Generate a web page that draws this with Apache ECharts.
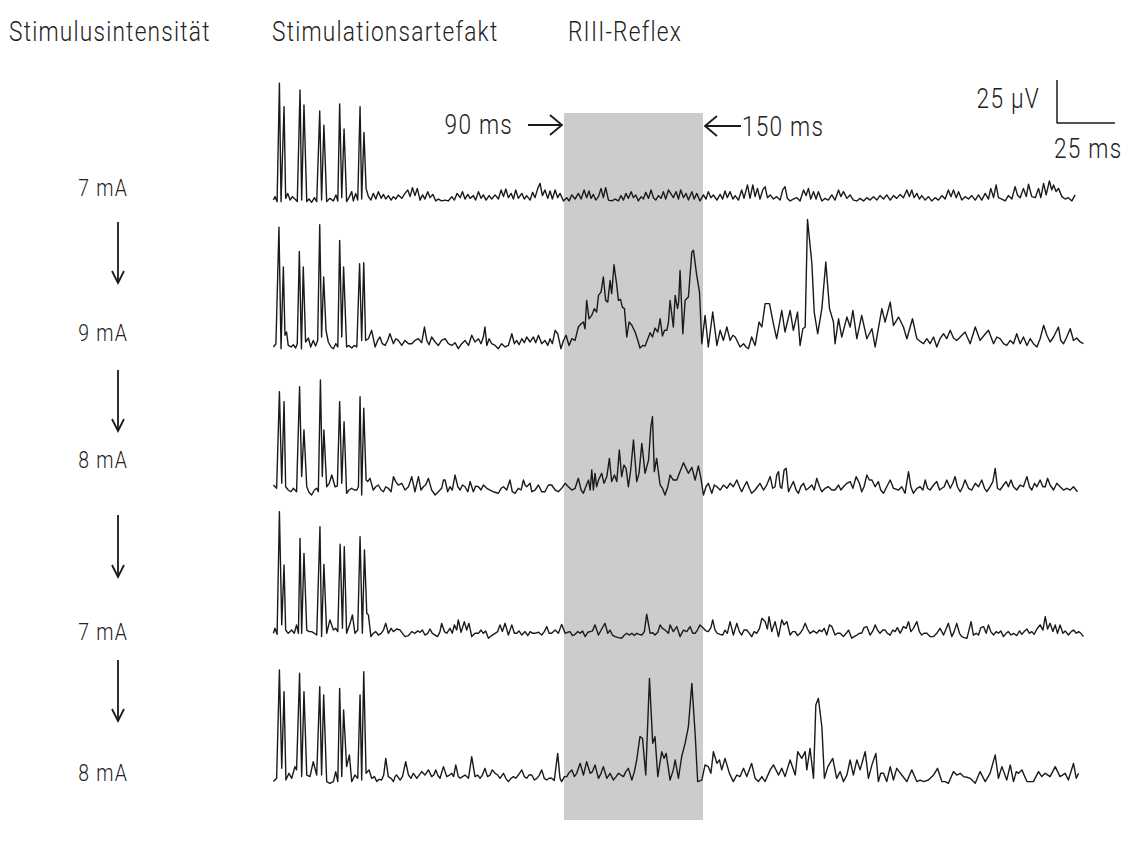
<!DOCTYPE html>
<html>
<head>
<meta charset="utf-8">
<title>RIII-Reflex</title>
<script src="https://cdn.jsdelivr.net/npm/echarts@6.0.0/dist/echarts.min.js"></script>
<style>
  html, body { margin: 0; padding: 0; background: #ffffff; }
  #chart { width: 1126px; height: 851px; letter-spacing: 1.5px; }
</style>
</head>
<body>
<div id="chart"></div>
<script>
// ---- time base (ms) and annotation values ----
const T_MIN = -36, T_MAX = 314;
const BAND = [90, 150];            // RIII window
const SCALE_MS = 25, SCALE_UV = 25; // calibration bar
const headers = ['Stimulusintensität', 'Stimulationsartefakt', 'RIII-Reflex'];
const intensities = ['7 mA', '9 mA', '8 mA', '7 mA', '8 mA'];

// ---- EMG sweeps: [time ms, amplitude µV] ----
const trace1 = [[-35.4,1.7],[-34.7,3.7],[-33.8,0.8],[-32.8,69.6],[-32.1,0.8],[-30.8,56],[-30.1,2.7],[-29.2,5.6],[-28.2,1.7],[-27.2,3.7],[-26.1,2.3],[-25.1,0.8],[-23.9,65.7],[-23.2,1.7],[-22.2,57],[-21.0,0.8],[-20.0,2.3],[-18.9,0.4],[-17.7,3.1],[-16.7,0.8],[-15.4,53.5],[-14.6,1.7],[-13.6,45.3],[-12.4,0.8],[-11.0,2.7],[-9.5,1.2],[-8.4,4.7],[-7.6,1.2],[-6.8,57.6],[-5.9,3.1],[-4.9,43],[-3.8,0.8],[-2.8,3.1],[-1.6,6.6],[-0.9,1.2],[0.1,5.6],[1.0,1.7],[2.0,56],[2.7,2.3],[3.7,41],[4.6,8.5],[5.6,3.7],[6.7,1.7],[7.7,5.6],[8.8,2.3],[9.9,6.6],[11.1,2.7],[12.1,5.0],[13.1,2.3],[14.2,4.3],[15.4,1.7],[16.4,3.7],[17.4,2.3],[18.5,4.7],[20.0,2.7],[21.4,5.6],[22.6,7.6],[23.6,3.7],[24.6,8.9],[25.7,4.3],[26.7,8.5],[27.9,1.7],[29.0,4.7],[30.0,2.3],[31.2,6.6],[32.2,3.1],[33.4,5.0],[34.7,1.2],[35.8,2.3],[37.2,1.2],[38.7,1.7],[40.1,1.2],[41.6,3.7],[42.7,1.7],[43.9,5.6],[45.2,3.1],[46.2,6.6],[47.3,2.3],[48.5,5.0],[49.5,2.7],[50.9,4.3],[51.9,1.7],[53.1,6.6],[54.2,2.7],[55.2,4.7],[56.4,1.7],[57.7,4.3],[58.8,2.3],[60.3,4.7],[61.7,2.3],[62.9,7.6],[63.9,3.7],[64.9,8.1],[66.0,3.1],[67.2,5.6],[68.2,2.3],[69.2,7.6],[70.3,2.7],[71.8,5.6],[72.9,2.3],[73.9,4.3],[75.4,1.7],[76.5,6.2],[77.5,3.1],[78.7,8.5],[79.7,11.4],[80.7,4.3],[81.8,7.6],[83.0,2.7],[84.0,7.0],[85.0,2.3],[86.2,7.6],[87.3,3.1],[88.3,5.6],[89.8,1.2],[91.2,3.1],[92.2,1.2],[93.4,4.7],[94.8,2.3],[96.2,5.6],[97.4,2.3],[98.7,7.6],[99.8,3.1],[100.8,7.0],[101.7,2.7],[102.7,5.0],[103.7,1.7],[104.9,3.7],[106.0,8.5],[107.0,3.1],[108.0,8.9],[109.2,1.7],[110.6,1.2],[112.1,2.3],[113.5,1.2],[114.6,4.3],[115.7,1.7],[116.7,5.6],[117.8,2.7],[119.0,6.6],[120.0,3.1],[121.0,4.7],[122.1,1.2],[123.3,3.7],[124.3,2.3],[125.3,6.2],[126.5,2.7],[127.6,7.6],[128.6,3.1],[129.6,1.7],[130.8,4.3],[131.9,2.7],[132.9,6.6],[133.9,2.3],[135.1,7.6],[137.2,3.1],[138.4,6.6],[139.4,2.3],[140.4,7.6],[141.6,3.1],[142.7,5.6],[143.7,1.7],[145.2,6.6],[146.2,2.3],[147.3,5.6],[148.7,1.2],[150.2,4.7],[151.3,2.3],[152.3,6.6],[153.4,3.1],[154.5,4.7],[156.0,1.7],[157.4,5.0],[158.5,2.3],[159.5,7.0],[160.5,3.1],[161.7,6.6],[162.9,2.3],[163.9,4.3],[165.3,1.7],[166.7,7.6],[167.7,2.7],[169.2,10.5],[170.3,2.7],[171.5,10.5],[172.5,3.7],[173.5,8.5],[174.6,2.3],[175.8,7.6],[176.8,9.5],[177.8,3.1],[179.0,4.7],[180.4,2.3],[181.8,3.7],[183.3,1.7],[184.4,7.6],[185.4,9.5],[186.4,2.7],[187.6,1.2],[189.0,2.3],[190.5,3.1],[191.9,1.2],[193.4,7.6],[194.5,4.3],[195.5,8.5],[196.5,2.3],[197.7,6.6],[198.8,2.3],[199.8,6.6],[201.3,1.2],[202.7,2.7],[204.1,1.7],[205.6,4.7],[207.0,1.7],[208.5,7.6],[209.5,3.7],[210.6,6.6],[212.1,2.7],[213.5,4.7],[214.9,1.7],[216.4,1.2],[217.8,2.7],[219.3,1.2],[220.7,3.1],[222.1,1.7],[223.6,3.7],[225.0,1.7],[226.4,4.3],[227.9,2.3],[229.3,4.7],[230.8,1.7],[232.2,4.3],[233.6,2.7],[235.1,5.0],[236.5,3.1],[238.0,7.6],[239.1,3.7],[240.1,7.6],[241.1,3.1],[242.3,5.6],[243.4,2.3],[244.4,4.3],[245.9,1.7],[247.3,3.7],[248.7,1.2],[250.2,3.1],[251.6,1.7],[253.1,4.3],[254.5,2.3],[255.9,7.6],[257.0,3.7],[258.1,7.6],[259.3,3.1],[260.3,6.6],[261.7,1.7],[263.1,3.7],[264.6,2.3],[266.0,4.3],[267.5,1.7],[268.9,4.7],[270.3,1.7],[271.8,5.6],[273.2,2.3],[274.2,8.5],[275.4,3.1],[276.5,10.5],[277.5,3.1],[279.0,2.3],[280.4,1.2],[281.8,4.3],[283.3,2.3],[284.7,9.5],[285.7,4.7],[286.9,3.1],[288.3,8.5],[289.5,3.7],[290.5,10.9],[291.9,3.7],[293.4,3.1],[294.8,8.5],[295.8,3.1],[297.0,11.4],[298.1,4.7],[299.5,12.8],[300.5,7.6],[301.3,10.5],[302.4,6.6],[303.4,8.5],[304.9,3.7],[306.3,2.3],[307.7,3.1],[309.2,1.2],[310.6,4.7]];

const trace2 = [[-35.4,1.0],[-34.3,2.9],[-33.0,70.7],[-32.1,0],[-31.1,47.5],[-30.4,7.8],[-29.7,9.7],[-29.0,1.9],[-27.8,1.0],[-26.8,2.3],[-25.8,0.4],[-25.1,2.9],[-24.2,56.6],[-23.3,0],[-22.5,47.5],[-21.5,3.9],[-20.3,6.2],[-19.3,1.0],[-18.2,4.8],[-17.2,1.6],[-16.3,4.8],[-15.4,72.1],[-14.6,6.8],[-13.7,41.7],[-12.7,10.7],[-11.7,3.9],[-10.5,1.0],[-9.5,0],[-8.5,2.9],[-7.6,1.0],[-6.8,63],[-5.9,6.8],[-5.1,47.5],[-3.8,1.0],[-2.8,1.9],[-1.6,0.4],[-0.5,1.9],[0.6,1.0],[1.8,49.4],[2.7,4.8],[3.6,50],[4.4,4.8],[5.6,5.8],[7.0,10.7],[8.5,1.0],[9.6,4.8],[10.6,6.8],[11.6,2.9],[12.8,1.9],[13.9,4.8],[14.9,8.7],[16.4,2.9],[17.4,5.8],[18.5,4.8],[20.0,1.9],[21.4,4.8],[22.9,2.9],[24.3,2.9],[25.7,4.8],[27.2,5.8],[28.6,3.5],[29.8,12.6],[30.8,4.8],[31.8,2.3],[32.9,6.8],[34.4,3.9],[35.8,1.9],[37.2,4.8],[38.7,5.8],[40.1,2.9],[41.6,1.9],[43.0,3.5],[44.4,0],[45.9,2.9],[47.3,4.8],[48.8,1.9],[50.2,7.8],[51.6,3.9],[53.1,5.8],[54.2,2.9],[55.2,6.8],[55.9,12.6],[56.7,1.9],[57.7,5.8],[58.8,2.9],[60.3,1.9],[61.7,0],[63.1,2.9],[64.6,1.0],[66.0,1.9],[67.5,8.7],[68.6,2.9],[69.6,4.8],[70.6,2.3],[71.8,5.8],[72.9,3.5],[73.9,6.8],[75.4,3.9],[76.8,6.8],[77.8,3.5],[79.0,7.8],[80.4,2.9],[81.8,4.8],[83.0,1.9],[84.0,5.8],[85.0,2.9],[86.2,10.7],[87.3,8.7],[88.7,0],[89.8,4.8],[90.9,7.8],[92.2,1.9],[93.4,5.8],[94.8,4.8],[96.2,12.6],[97.4,14.5],[98.4,15.5],[99.1,11.6],[99.8,28.1],[100.8,17.4],[102.0,19.4],[103.1,23.3],[104.1,21.3],[104.9,31.0],[106.0,32.9],[107.0,41.7],[108.0,28.1],[108.9,27.1],[109.9,39.7],[110.6,32.0],[111.6,48.8],[112.8,36.8],[113.5,28.1],[114.4,28.7],[115.2,24.2],[116.1,23.3],[117.1,6.8],[118.1,15.5],[119.3,13.6],[120.7,9.7],[121.9,4.8],[122.8,0.4],[124.0,1.9],[125.0,1.6],[126.2,5.8],[127.2,9.3],[128.2,6.8],[129.3,12.0],[130.5,9.7],[131.5,17.4],[132.5,7.4],[133.4,10.7],[134.4,10.7],[135.1,15.5],[135.8,28.1],[137.2,12.6],[138.0,31.0],[139.0,23.3],[139.5,27.1],[140.1,45.5],[141.3,8.7],[142.3,28.1],[143.7,30.0],[145.2,56.2],[145.9,57.2],[147.3,42.6],[148.5,32.9],[149.5,2.9],[150.9,19.4],[152.3,1.0],[154.2,21.3],[156.0,1.9],[157.4,10.7],[158.8,4.8],[160.3,12.6],[161.7,4.8],[162.9,7.8],[163.9,6.8],[166.0,1.0],[167.5,2.9],[168.6,1.0],[169.6,0],[171.0,6.8],[172.5,1.9],[174.2,15.5],[175.4,12.6],[176.8,26.2],[178.7,26.2],[180.4,14.5],[181.8,5.8],[184.0,22.3],[185.4,9.7],[187.6,22.3],[189.0,10.7],[190.8,21.3],[191.9,1.9],[193.1,11.6],[194.1,12.6],[195.1,75.2],[197.0,49.4],[198.0,21.3],[199.5,8.7],[201.3,23.3],[203.0,50.4],[204.6,23.3],[206.3,15.5],[207.0,2.9],[208.5,17.4],[209.9,6.8],[212.1,18.4],[213.5,12.6],[214.7,22.3],[216.4,5.8],[218.5,19.4],[220.7,5.8],[222.9,11.6],[224.3,1.0],[227.2,23.3],[228.6,15.5],[230.8,27.1],[232.2,13.6],[234.4,18.4],[236.5,12.6],[238.0,5.8],[240.4,17.4],[242.3,5.8],[243.7,4.3],[245.2,2.9],[246.6,5.8],[248.0,2.9],[249.5,6.8],[250.9,1.0],[252.3,5.8],[253.8,8.7],[255.2,5.8],[256.7,10.7],[258.1,6.2],[259.5,4.8],[261.0,6.8],[263.1,9.7],[265.3,2.9],[267.5,12.6],[269.6,4.8],[271.1,7.4],[273.2,10.7],[275.4,2.9],[276.8,6.8],[278.2,5.8],[279.7,2.9],[281.1,1.9],[282.6,4.8],[284.0,2.9],[285.4,8.7],[286.9,2.9],[288.3,6.8],[289.8,1.9],[291.2,5.8],[292.6,2.9],[294.1,1.0],[295.5,5.8],[297.0,13.6],[298.4,7.8],[299.8,3.9],[301.3,6.8],[303.4,12.6],[304.4,4.8],[305.6,2.9],[307.0,6.8],[308.5,11.6],[309.9,4.8],[311.3,6.2],[312.8,3.9],[314.2,2.9]];

const trace3 = [[-35.4,5.8],[-34.0,3.9],[-32.8,60.1],[-31.8,6.8],[-30.8,54.3],[-30.1,4.8],[-29.0,2.9],[-27.8,1.9],[-26.8,3.9],[-25.4,1.9],[-24.1,63],[-23.2,10.7],[-22.2,37.8],[-21.0,4.8],[-20.0,1.4],[-18.9,0],[-17.7,2.9],[-16.7,3.9],[-16.0,1.9],[-15.1,66.9],[-14.3,10.7],[-13.6,37.8],[-12.4,4.8],[-11.3,6.8],[-10.2,11.6],[-8.8,4.8],[-7.8,5.2],[-6.8,54.3],[-5.9,6.8],[-4.9,42.6],[-3.8,1.0],[-2.8,2.9],[-1.6,3.9],[-0.5,2.9],[0.6,2.9],[1.3,4.8],[2.0,57.2],[2.7,0],[3.6,50.4],[4.6,8.7],[5.3,7.8],[6.3,9.7],[7.7,2.9],[8.8,4.8],[9.9,5.8],[11.1,2.9],[12.1,1.9],[13.1,4.8],[14.2,3.9],[15.4,1.9],[16.4,10.7],[17.4,7.8],[18.5,5.8],[20.0,6.8],[21.4,2.9],[22.9,4.8],[24.3,10.7],[25.7,1.9],[27.2,10.7],[28.3,2.9],[29.3,4.8],[30.3,5.8],[31.5,9.7],[32.9,2.9],[34.4,0],[35.8,1.9],[37.2,3.9],[38.0,8.7],[38.7,8.7],[39.8,1.9],[40.8,4.8],[41.8,2.9],[43.0,11.6],[44.2,4.8],[45.2,2.9],[46.2,5.8],[47.3,4.8],[48.5,1.9],[49.5,7.8],[50.9,1.9],[51.9,5.2],[53.1,4.8],[54.2,2.9],[55.2,5.8],[56.7,3.9],[58.1,2.9],[59.5,1.9],[61.7,1.0],[62.9,3.9],[63.9,4.8],[65.3,2.9],[66.7,8.7],[67.7,1.9],[68.9,1.0],[70.3,3.9],[71.5,2.9],[72.5,8.7],[73.2,5.8],[73.9,4.8],[75.4,6.8],[76.1,1.9],[77.5,2.9],[79.0,5.8],[80.4,1.9],[81.8,1.9],[83.3,5.8],[84.7,5.8],[86.2,2.9],[87.6,1.9],[89.0,3.9],[90.5,6.8],[91.9,4.8],[93.4,2.9],[94.8,3.9],[96.2,9.7],[97.4,2.9],[98.4,1.0],[99.4,4.8],[100.6,8.7],[101.3,2.9],[102.0,14.5],[102.7,2.9],[103.4,12.6],[104.1,4.8],[104.9,8.7],[106.3,12.6],[107.3,6.8],[108.5,10.7],[109.6,21.3],[110.6,7.8],[111.8,11.6],[112.8,7.8],[113.9,26.2],[114.9,10.7],[115.9,17.4],[116.8,15.5],[117.8,4.8],[118.8,14.5],[120.0,32.0],[121.4,7.8],[122.4,12.6],[123.6,30.0],[125.0,12.6],[126.5,20.3],[127.5,39.7],[128.2,45.5],[129.0,13.6],[130.0,21.3],[131.5,5.8],[132.5,3.9],[133.6,0],[134.8,4.8],[135.8,11.6],[137.2,8.7],[138.7,8.7],[140.1,13.6],[141.6,18.8],[142.7,15.5],[143.7,12.6],[145.2,16.1],[146.6,8.7],[148.0,16.9],[149.0,10.7],[150.2,0],[151.3,4.8],[152.3,6.8],[153.8,1.0],[154.9,5.8],[156.0,4.8],[157.4,2.9],[158.8,5.8],[160.3,3.9],[161.7,6.8],[163.1,4.8],[164.6,8.7],[165.7,4.8],[166.7,1.9],[167.7,4.8],[168.9,7.8],[170.0,3.9],[171.0,1.0],[172.5,2.9],[173.5,4.8],[174.6,6.8],[176.1,2.9],[177.5,5.8],[179.0,10.7],[180.1,3.9],[181.1,4.8],[181.8,11.6],[182.6,13.6],[183.3,4.8],[184.0,3.9],[185.0,14.5],[185.9,15.5],[186.9,1.9],[187.9,4.8],[189.0,7.8],[190.2,2.9],[191.2,1.0],[192.2,4.8],[193.4,6.8],[194.5,2.9],[195.5,3.9],[197.0,5.8],[198.0,2.9],[199.1,9.7],[200.3,4.8],[201.3,1.9],[202.7,3.9],[204.1,4.8],[205.6,2.9],[207.0,2.9],[208.5,5.8],[209.5,2.9],[210.6,4.8],[212.1,6.8],[213.5,7.8],[214.7,3.9],[216.1,10.7],[217.5,6.8],[218.5,1.9],[219.5,4.8],[220.7,11.6],[221.8,8.7],[222.9,8.7],[224.3,4.8],[225.7,7.8],[226.7,2.9],[227.9,1.0],[229.3,4.8],[230.8,8.7],[232.2,3.9],[234.4,2.9],[235.8,4.8],[237.2,1.0],[238.7,13.6],[239.7,4.8],[240.8,1.0],[242.3,3.9],[243.7,4.8],[244.9,2.9],[245.9,8.7],[246.9,3.9],[248.0,2.9],[249.5,5.8],[250.9,7.8],[252.1,2.9],[253.1,3.9],[254.1,4.8],[255.2,8.7],[256.7,3.9],[257.8,6.8],[258.8,10.7],[259.8,4.8],[261.0,1.9],[262.1,4.8],[263.1,8.7],[264.6,3.9],[266.0,2.9],[267.5,6.8],[268.9,4.8],[270.3,8.7],[271.5,3.9],[272.5,1.9],[273.9,4.8],[275.1,7.8],[276.1,15.5],[277.1,3.9],[278.2,2.9],[279.7,5.8],[280.8,7.8],[281.8,4.8],[282.9,8.7],[284.0,4.8],[285.4,2.9],[286.9,5.8],[288.3,4.8],[289.8,10.7],[290.9,4.8],[291.9,2.9],[293.1,6.8],[294.1,4.8],[295.5,8.7],[296.7,4.8],[297.7,4.8],[298.7,9.7],[299.8,5.8],[301.3,2.9],[302.7,6.8],[304.1,4.8],[305.6,2.9],[307.0,3.9],[308.5,2.9],[309.9,4.8],[311.6,1.9]];

const trace4 = [[-35.4,2.9],[-34.7,5.8],[-33.8,2.3],[-32.8,73.6],[-31.8,7.8],[-30.8,42.6],[-30.1,4.8],[-29.0,2.9],[-27.5,4.8],[-26.4,2.9],[-25.4,7.8],[-24.6,2.9],[-23.9,58.1],[-23.2,2.9],[-22.2,49.4],[-21.0,4.8],[-20.0,3.9],[-18.9,3.9],[-17.7,2.9],[-16.7,1.9],[-15.3,64.9],[-14.6,1.0],[-13.6,43.0],[-12.4,2.9],[-11.0,10.7],[-9.5,4.8],[-8.5,5.8],[-7.6,3.9],[-6.6,54.7],[-5.6,5.8],[-4.8,53.3],[-3.8,2.9],[-2.3,8.7],[-1.3,13.6],[-0.2,2.9],[1.0,4.8],[2.0,59.1],[3.0,2.9],[3.9,51.4],[4.9,14.5],[5.6,13.6],[6.7,1.0],[7.7,2.9],[8.8,3.9],[9.9,1.9],[11.1,2.9],[12.1,4.8],[13.1,8.7],[14.2,2.9],[15.4,5.8],[16.4,3.9],[17.8,5.4],[19.3,4.8],[20.3,2.9],[21.4,1.0],[22.9,1.6],[24.3,3.9],[25.7,2.9],[26.9,4.3],[27.9,3.5],[28.9,4.8],[30.0,1.9],[31.2,2.9],[32.2,5.4],[33.2,2.9],[34.4,1.9],[35.5,1.0],[36.5,3.9],[37.2,8.7],[38.4,3.9],[39.4,2.9],[40.8,5.8],[41.8,2.9],[42.7,7.8],[43.7,4.8],[44.4,10.7],[45.6,3.5],[47.0,9.7],[48.0,4.8],[49.0,8.7],[50.2,1.0],[51.6,2.9],[53.1,2.9],[54.2,4.8],[55.2,2.9],[56.2,4.3],[57.4,0],[58.8,1.6],[60.3,2.9],[61.4,3.9],[62.4,7.8],[63.4,3.9],[64.6,8.7],[66.0,1.9],[67.5,7.8],[68.6,2.9],[69.6,2.9],[70.6,4.3],[71.8,1.9],[73.2,3.9],[74.4,1.6],[75.4,3.9],[76.5,2.9],[77.5,2.9],[79.0,3.5],[80.4,1.9],[81.5,3.9],[82.6,6.8],[83.6,2.9],[84.7,2.9],[86.2,4.8],[87.6,2.9],[89.0,8.1],[90.5,2.9],[91.6,3.5],[92.6,3.9],[93.7,1.6],[94.8,2.3],[96.0,3.9],[97.0,2.9],[98.0,4.3],[99.1,1.0],[100.3,3.5],[101.3,3.9],[102.3,4.3],[103.4,7.8],[104.9,1.9],[106.3,5.4],[107.7,8.7],[108.9,2.9],[109.9,4.8],[110.9,1.9],[112.1,1.0],[113.5,0.4],[114.9,0],[116.1,1.9],[117.1,2.9],[118.1,1.9],[119.3,2.9],[120.4,1.6],[121.4,2.9],[122.4,2.3],[123.6,1.9],[124.7,3.9],[125.7,14.0],[127.2,2.9],[128.2,3.3],[129.3,1.9],[130.5,3.5],[131.5,7.8],[132.5,5.8],[133.6,4.8],[135.1,2.9],[135.8,7.8],[137.2,3.9],[138.7,6.8],[140.1,1.0],[141.6,4.8],[143.0,3.9],[144.4,6.8],[145.6,2.9],[146.6,2.9],[147.6,4.8],[148.7,7.8],[150.2,5.8],[151.3,4.3],[152.3,3.9],[153.4,6.2],[154.2,10.7],[155.2,4.8],[156.2,2.9],[157.4,2.3],[158.5,1.9],[159.5,4.8],[160.5,2.9],[161.7,9.7],[163.1,1.9],[164.6,8.7],[165.7,3.9],[166.7,1.9],[167.7,4.8],[168.9,4.8],[170.0,2.9],[171.0,1.0],[172.1,3.9],[173.2,2.9],[174.4,5.8],[175.4,11.6],[176.8,9.7],[177.8,5.4],[178.5,12.6],[179.7,3.9],[181.1,9.7],[182.6,1.0],[184.0,10.7],[185.0,7.8],[186.2,9.7],[187.6,1.9],[188.7,3.9],[189.8,3.9],[190.8,1.6],[191.9,2.9],[193.1,5.4],[194.1,8.7],[195.1,5.4],[196.2,2.9],[197.7,4.3],[199.1,2.9],[200.3,4.8],[201.3,3.9],[202.3,5.8],[203.4,1.9],[204.6,7.8],[205.6,6.8],[207.0,1.9],[208.0,2.9],[209.2,2.9],[210.6,1.0],[211.8,2.9],[212.8,4.8],[214.2,0],[215.2,1.0],[216.4,1.9],[217.5,2.9],[218.5,2.9],[219.5,6.2],[220.7,6.8],[222.1,1.9],[223.3,4.3],[224.3,7.8],[225.3,4.8],[226.4,2.9],[227.6,4.8],[228.6,4.8],[229.6,2.9],[230.8,1.9],[231.9,4.8],[232.9,3.9],[233.9,6.2],[235.1,2.9],[236.5,6.8],[237.7,5.8],[238.7,9.7],[239.7,3.9],[240.8,5.8],[242.3,9.7],[243.4,3.9],[244.4,1.9],[245.4,2.9],[246.6,2.9],[248.0,1.0],[249.5,1.0],[250.9,2.9],[252.3,5.8],[253.8,1.9],[254.9,5.4],[255.9,8.7],[257.4,1.0],[258.4,3.9],[259.5,8.7],[260.7,2.9],[261.7,1.0],[262.7,0.4],[263.9,0],[265.7,9.7],[266.7,1.9],[267.9,2.9],[268.9,1.9],[269.9,6.2],[271.1,6.8],[272.2,2.9],[273.2,7.8],[274.2,3.9],[275.4,1.9],[276.5,3.9],[277.5,2.9],[278.5,4.3],[279.7,1.0],[280.8,2.9],[281.8,3.9],[282.9,1.9],[284.0,2.9],[285.4,1.6],[286.6,4.3],[287.6,2.3],[288.6,3.9],[289.8,5.4],[290.9,2.9],[291.9,3.9],[292.9,2.3],[294.1,5.4],[295.5,7.8],[296.7,4.8],[297.7,12.6],[298.7,5.4],[299.8,8.7],[301.0,3.9],[302.0,7.8],[303.0,2.9],[304.1,7.8],[305.3,2.9],[306.3,4.3],[307.7,1.9],[308.9,3.9],[309.9,4.8],[311.1,2.9],[312.1,3.9],[313.1,2.9],[314.2,1.0]];

const trace5 = [[-35.4,1.0],[-34.0,2.9],[-32.8,65.9],[-31.8,8.7],[-30.8,53.3],[-30.0,1.9],[-28.7,5.8],[-27.5,2.9],[-26.1,9.7],[-25.4,7.8],[-24.1,64.0],[-23.2,3.9],[-22.2,53.3],[-21.0,4.8],[-19.6,3.9],[-18.2,12.6],[-16.7,4.8],[-15.4,56.2],[-14.6,4.8],[-13.7,51.4],[-12.4,1.0],[-11.0,0],[-9.5,1.0],[-8.5,6.8],[-7.6,1.0],[-6.8,55.2],[-5.9,3.9],[-5.1,42.6],[-3.8,9.7],[-2.6,16.5],[-1.6,1.0],[-0.2,4.8],[1.0,2.9],[2.0,51.4],[2.7,1.9],[3.6,64.9],[4.6,5.8],[5.9,7.8],[7.0,2.9],[8.2,3.9],[9.2,1.0],[10.2,2.3],[11.3,1.9],[12.2,4.8],[13.1,14.5],[14.2,3.9],[15.4,2.9],[16.4,1.0],[17.1,3.9],[17.8,4.8],[19.3,1.9],[20.3,3.9],[21.7,12.6],[22.9,4.8],[24.0,2.9],[25.0,5.8],[26.5,2.9],[27.5,4.8],[28.6,6.8],[30.0,4.8],[31.5,7.8],[32.9,3.9],[33.8,4.8],[34.7,7.8],[35.5,4.8],[36.5,2.9],[38.0,9.7],[39.4,3.9],[40.6,4.8],[41.6,5.8],[42.4,3.9],[43.3,10.7],[44.4,3.9],[45.2,2.9],[46.2,3.9],[47.3,4.8],[48.8,2.9],[50.2,15.5],[51.6,3.9],[52.8,4.8],[53.8,2.9],[54.8,4.8],[55.9,8.7],[57.0,3.9],[58.1,4.8],[59.1,7.8],[60.3,5.8],[61.4,4.8],[62.4,2.9],[63.9,5.8],[64.9,2.9],[66.0,1.0],[67.2,2.9],[68.2,3.9],[69.2,2.9],[70.3,4.8],[71.8,7.8],[72.9,3.9],[73.9,2.9],[74.9,4.8],[76.1,4.8],[77.2,1.9],[78.3,2.9],[79.2,4.3],[80.4,7.8],[81.5,2.9],[82.6,1.9],[83.6,2.9],[84.7,2.9],[85.8,1.6],[87.3,17.4],[88.3,2.9],[89.0,1.0],[90.2,3.9],[91.2,3.9],[92.2,6.2],[93.4,7.8],[94.5,3.9],[95.5,5.8],[97.0,11.6],[98.4,4.8],[99.8,12.6],[101.3,5.8],[102.3,6.8],[103.4,10.7],[104.9,2.9],[106.0,5.8],[107.0,9.7],[108.5,2.9],[109.9,5.8],[111.3,1.9],[112.5,3.9],[113.5,5.8],[114.6,4.8],[115.7,3.9],[116.7,6.8],[117.8,8.7],[119.3,1.9],[120.4,6.8],[121.4,13.6],[122.8,27.1],[123.9,26.2],[125.3,4.8],[126.9,61.0],[128.3,23.3],[129.3,27.1],[130.5,3.9],[132.2,18.4],[133.2,14.5],[134.1,17.4],[135.8,1.9],[137.2,7.8],[138.0,13.6],[139.4,2.9],[140.8,15.5],[142.3,23.3],[143.7,32.9],[145.2,58.1],[146.6,29.1],[147.7,1.0],[149.5,1.9],[150.9,10.7],[152.3,9.7],[153.4,5.8],[154.5,18.4],[156.0,11.6],[157.1,13.6],[158.1,7.8],[159.5,14.5],[161.4,5.8],[163.1,1.0],[164.6,4.8],[166.0,3.9],[167.5,8.7],[168.9,3.9],[171.0,11.6],[172.5,2.9],[173.9,1.0],[175.4,3.9],[176.8,1.0],[179.0,7.8],[180.4,10.7],[182.6,4.8],[184.0,8.7],[185.4,3.9],[187.6,13.6],[189.8,4.8],[190.9,18.4],[192.6,14.5],[194.1,18.4],[194.8,7.8],[196.2,20.3],[197.7,2.9],[198.7,45.5],[199.8,49.4],[201.3,32.9],[202.4,2.9],[203.9,9.7],[206.0,14.5],[207.7,2.9],[209.2,6.8],[210.6,1.0],[212.1,4.8],[213.5,13.6],[214.9,4.8],[216.4,13.6],[217.8,7.8],[220.0,18.4],[221.4,2.9],[222.9,10.7],[224.6,17.4],[225.7,1.0],[226.7,5.8],[227.9,5.8],[229.3,1.0],[230.8,9.7],[232.2,1.9],[233.6,8.7],[235.8,4.8],[238.0,1.0],[240.1,7.8],[242.3,1.0],[243.7,1.9],[245.2,1.0],[247.3,1.9],[249.5,4.8],[251.2,8.7],[253.1,1.0],[254.5,1.0],[255.9,0],[258.1,6.8],[259.5,4.8],[261.0,5.8],[262.4,3.9],[263.9,3.5],[265.3,2.9],[267.5,0],[269.6,6.8],[271.8,1.0],[273.9,5.8],[276.1,16.5],[277.5,2.9],[279.0,9.7],[281.1,1.9],[282.6,10.7],[284.0,1.0],[285.2,6.8],[286.2,5.8],[287.6,7.8],[289.8,1.0],[292.6,1.0],[294.8,6.8],[296.2,3.9],[297.7,5.8],[299.8,3.9],[302.0,9.7],[304.1,3.9],[306.3,5.8],[307.7,1.9],[309.9,11.6],[311.1,2.9],[312.1,5.8]];

const traces = [trace1, trace2, trace3, trace4, trace5];

// ---- layout ----
const PLOT_LEFT = 272, PLOT_WIDTH = 811;
const PX_PER_MS = PLOT_WIDTH / (T_MAX - T_MIN);
const PX_PER_UV = 1.72;
const UV_MAX = 80;                       // vertical room of each sweep
const baselines = [203, 348.7, 495, 638.3, 783.3];
const labelY = [188, 333, 460, 632, 773];
const BAND_TOP = 113, BAND_BOTTOM = 820;
const FONT = "Roboto, 'Liberation Sans', sans-serif";
const CONDENSE = 0.81;                   // narrow the typeface horizontally
const INK = '#1a1a1a', TEXT = '#222222';

const chart = echarts.init(document.getElementById('chart'), null, { renderer: 'svg', width: 1126, height: 851 });

const grid = [], xAxis = [], yAxis = [], series = [];
const hiddenAxis = (g, min, max) => ({ type: 'value', gridIndex: g, min, max, show: false });

// shaded reflex window spanning all sweeps
grid.push({ left: PLOT_LEFT, width: PLOT_WIDTH, top: BAND_TOP, height: BAND_BOTTOM - BAND_TOP });
xAxis.push(hiddenAxis(0, T_MIN, T_MAX));
yAxis.push(hiddenAxis(0, 0, 1));
series.push({
  type: 'line', xAxisIndex: 0, yAxisIndex: 0, data: [], silent: true, z: 1,
  markArea: { silent: true, itemStyle: { color: '#cccccc' }, data: [[{ xAxis: BAND[0] }, { xAxis: BAND[1] }]] }
});

// one grid per sweep
traces.forEach((tr, i) => {
  const g = i + 1;
  grid.push({ left: PLOT_LEFT, width: PLOT_WIDTH, top: baselines[i] - UV_MAX * PX_PER_UV, height: UV_MAX * PX_PER_UV });
  xAxis.push(hiddenAxis(g, T_MIN, T_MAX));
  yAxis.push(hiddenAxis(g, 0, UV_MAX));
  series.push({
    type: 'line', name: intensities[i], xAxisIndex: g, yAxisIndex: g, data: tr,
    symbol: 'none', clip: false, silent: true, z: 3,
    lineStyle: { color: INK, width: 1.4, join: 'round' }
  });
});

// calibration bar
const sg = traces.length + 1;
grid.push({ left: 1057, top: 123 - SCALE_UV * PX_PER_UV, width: SCALE_MS * PX_PER_MS, height: SCALE_UV * PX_PER_UV });
xAxis.push(hiddenAxis(sg, 0, SCALE_MS));
yAxis.push(hiddenAxis(sg, 0, SCALE_UV));
series.push({
  type: 'line', xAxisIndex: sg, yAxisIndex: sg, symbol: 'none', clip: false, silent: true, z: 3,
  data: [[0, SCALE_UV], [0, 0], [SCALE_MS, 0]],
  lineStyle: { color: INK, width: 1.5 }
});

chart.setOption({ animation: false, backgroundColor: '#ffffff', grid, xAxis, yAxis, series });

// ---- text and arrows ----
const txt = (text, x, y, size, align) => ({
  type: 'text', x, y, scaleX: CONDENSE, silent: true, z: 10,
  style: { text, fill: TEXT, fontSize: size, fontFamily: FONT, fontWeight: 300, align: align || 'left', verticalAlign: 'middle' }
});
const stroke = { stroke: INK, lineWidth: 1.8, fill: null };
const line = (x1, y1, x2, y2) => ({ type: 'line', silent: true, z: 10, shape: { x1, y1, x2, y2 }, style: stroke });
const poly = (points) => ({ type: 'polyline', silent: true, z: 10, shape: { points }, style: stroke });

const graphic = [];
graphic.push(txt(headers[0], 9, 31, 28));
graphic.push(txt(headers[1], PLOT_LEFT, 31, 28));
graphic.push(txt(headers[2], 568, 31, 28));

intensities.forEach((s, i) => graphic.push(txt(s, 128, labelY[i], 24, 'right')));

// down arrows between intensity labels
const ARROW_X = 118;
[[222, 283], [370, 431], [515, 577], [660, 721]].forEach(([y1, y2]) => {
  graphic.push(line(ARROW_X, y1, ARROW_X, y2));
  graphic.push(poly([[ARROW_X - 6, y2 - 12], [ARROW_X, y2], [ARROW_X + 6, y2 - 12]]));
});

// arrows pointing at the window limits
const xL = chart.convertToPixel({ gridIndex: 0 }, [BAND[0], 0])[0];
const xR = chart.convertToPixel({ gridIndex: 0 }, [BAND[1], 0])[0];
const AY = 125;
graphic.push(line(xL - 36, AY, xL - 2, AY));
graphic.push(poly([[xL - 14, AY - 10], [xL - 2, AY], [xL - 14, AY + 10]]));
graphic.push(txt(BAND[0] + ' ms', xL - 51, AY - 1, 28, 'right'));
graphic.push(line(xR + 2, AY + 1, xR + 38, AY + 1));
graphic.push(poly([[xR + 14, AY - 9], [xR + 2, AY + 1], [xR + 14, AY + 11]]));
graphic.push(txt(BAND[1] + ' ms', xR + 39, AY + 1, 28));

// calibration labels
graphic.push(txt(SCALE_UV + ' µV', 1040, 98, 28, 'right'));
graphic.push(txt(SCALE_MS + ' ms', 1054, 148, 28));

chart.setOption({ graphic });
</script>
</body>
</html>
